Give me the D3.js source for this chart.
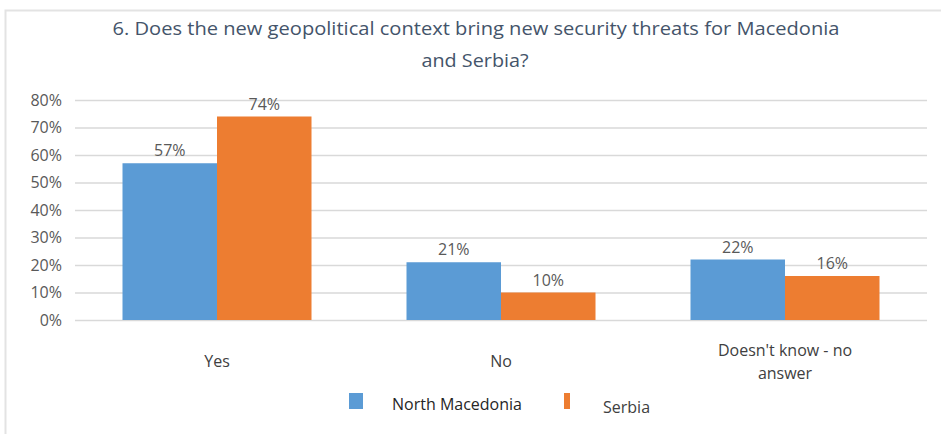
<!DOCTYPE html>
<html>
<head>
<meta charset="utf-8">
<script src="https://cdn.jsdelivr.net/npm/d3@7"></script>
<style>
  body { margin: 0; background: #fff; }
  text { font-family: "Open Sans", "Liberation Sans", sans-serif; }
</style>
</head>
<body>
<svg id="chart"></svg>
<script>
// Data
var categories = ["Yes", "No", "Doesn't know - no answer"];
var seriesNames = ["North Macedonia", "Serbia"];
var macedonia = [57, 21, 22];
var serbia = [74, 10, 16];
var yTicks = [0, 10, 20, 30, 40, 50, 60, 70, 80];
var colors = ["#5b9bd5", "#ed7d31"];

var svgWidth = 941, svgHeight = 434;
var margin = { top: 100, right: 14, bottom: 114, left: 75 };
var width = svgWidth - margin.left - margin.right;
var height = svgHeight - margin.top - margin.bottom;

var svg = d3.select("#chart")
    .attr("width", svgWidth)
    .attr("height", svgHeight);

// frame (only top and left edges are visible in the picture)
svg.append("path")
    .attr("d", "M5.5,434 V10.5 H941")
    .attr("fill", "none")
    .attr("stroke", "#e3e3e3")
    .attr("stroke-width", 2);

// title
var title = svg.append("text")
    .attr("text-anchor", "middle")
    .attr("fill", "#44546a")
    .style("font-size", "19px");
title.append("tspan").attr("x", 476).attr("y", 35)
    .attr("textLength", 727).attr("lengthAdjust", "spacingAndGlyphs")
    .text("6. Does the new geopolitical context bring new security threats for Macedonia");
title.append("tspan").attr("x", 475).attr("y", 67)
    .attr("textLength", 107).attr("lengthAdjust", "spacingAndGlyphs")
    .text("and Serbia?");

var g = svg.append("g")
    .attr("transform", "translate(" + margin.left + "," + margin.top + ")");

var x0 = d3.scaleBand()
    .domain(categories)
    .range([0, width])
    .paddingInner(0)
    .paddingOuter(0);

var x1 = d3.scaleBand()
    .domain(seriesNames)
    .range([47.5, x0.bandwidth() - 47.5]);

var y = d3.scaleLinear()
    .domain([0, 80])
    .range([height, 0]);

// gridlines
g.append("g")
    .selectAll("line")
    .data(yTicks)
  .enter().append("line")
    .attr("x1", 0)
    .attr("x2", width)
    .attr("y1", d => y(d) + 0.5)
    .attr("y2", d => y(d) + 0.5)
    .attr("stroke", "#d9d9d9")
    .attr("stroke-width", 1.5);

// y axis labels
var yAxis = g.append("g")
    .call(d3.axisLeft(y).tickValues(yTicks).tickSize(0).tickPadding(13).tickFormat(d => d + "%"));
yAxis.select(".domain").remove();
yAxis.selectAll("text")
    .attr("fill", "#595959")
    .style("font-size", "16px")
    .style("font-family", "'Open Sans', sans-serif");

// bars
var rows = categories.map(function(c, i) {
    return { cat: c, values: [macedonia[i], serbia[i]] };
});

var groups = g.selectAll(".cat")
    .data(rows)
  .enter().append("g")
    .attr("class", "cat")
    .attr("transform", d => "translate(" + x0(d.cat) + ",0)");

groups.selectAll("rect")
    .data(d => d.values.map((v, j) => ({ name: seriesNames[j], value: v, j: j })))
  .enter().append("rect")
    .attr("x", d => x1(d.name))
    .attr("y", d => y(d.value))
    .attr("width", x1.bandwidth())
    .attr("height", d => height - y(d.value))
    .attr("fill", d => colors[d.j]);

groups.selectAll(".val")
    .data(d => d.values.map((v, j) => ({ name: seriesNames[j], value: v })))
  .enter().append("text")
    .attr("class", "val")
    .attr("x", d => x1(d.name) + x1.bandwidth() / 2)
    .attr("y", d => y(d.value) - 7)
    .attr("text-anchor", "middle")
    .attr("fill", "#595959")
    .style("font-size", "16px")
    .text(d => d.value + "%");

// category labels
var catLabels = g.selectAll(".catlabel")
    .data(categories)
  .enter().append("text")
    .attr("class", "catlabel")
    .attr("text-anchor", "middle")
    .attr("fill", "#404040")
    .style("font-size", "16px");

catLabels.each(function(d) {
    var t = d3.select(this);
    var cx = x0(d) + x0.bandwidth() / 2;
    var lines = d === "Doesn't know - no answer" ? ["Doesn't know - no", "answer"] : [d];
    t.attr("y", lines.length > 1 ? height + 36 : height + 47);
    lines.forEach(function(line, i) {
        t.append("tspan").attr("x", cx).attr("dy", i === 0 ? 0 : 23).text(line);
    });
});

// legend
var legend = svg.append("g");
legend.append("rect")
    .attr("x", 349).attr("y", 393).attr("width", 14).attr("height", 16)
    .attr("fill", colors[0]);
legend.append("text")
    .attr("x", 392).attr("y", 410)
    .attr("fill", "#262626")
    .style("font-size", "16px")
    .text(seriesNames[0]);
legend.append("rect")
    .attr("x", 564).attr("y", 393).attr("width", 6).attr("height", 16)
    .attr("fill", colors[1]);
legend.append("text")
    .attr("x", 603).attr("y", 413)
    .attr("fill", "#404040")
    .style("font-size", "16px")
    .text(seriesNames[1]);
</script>
</body>
</html>
